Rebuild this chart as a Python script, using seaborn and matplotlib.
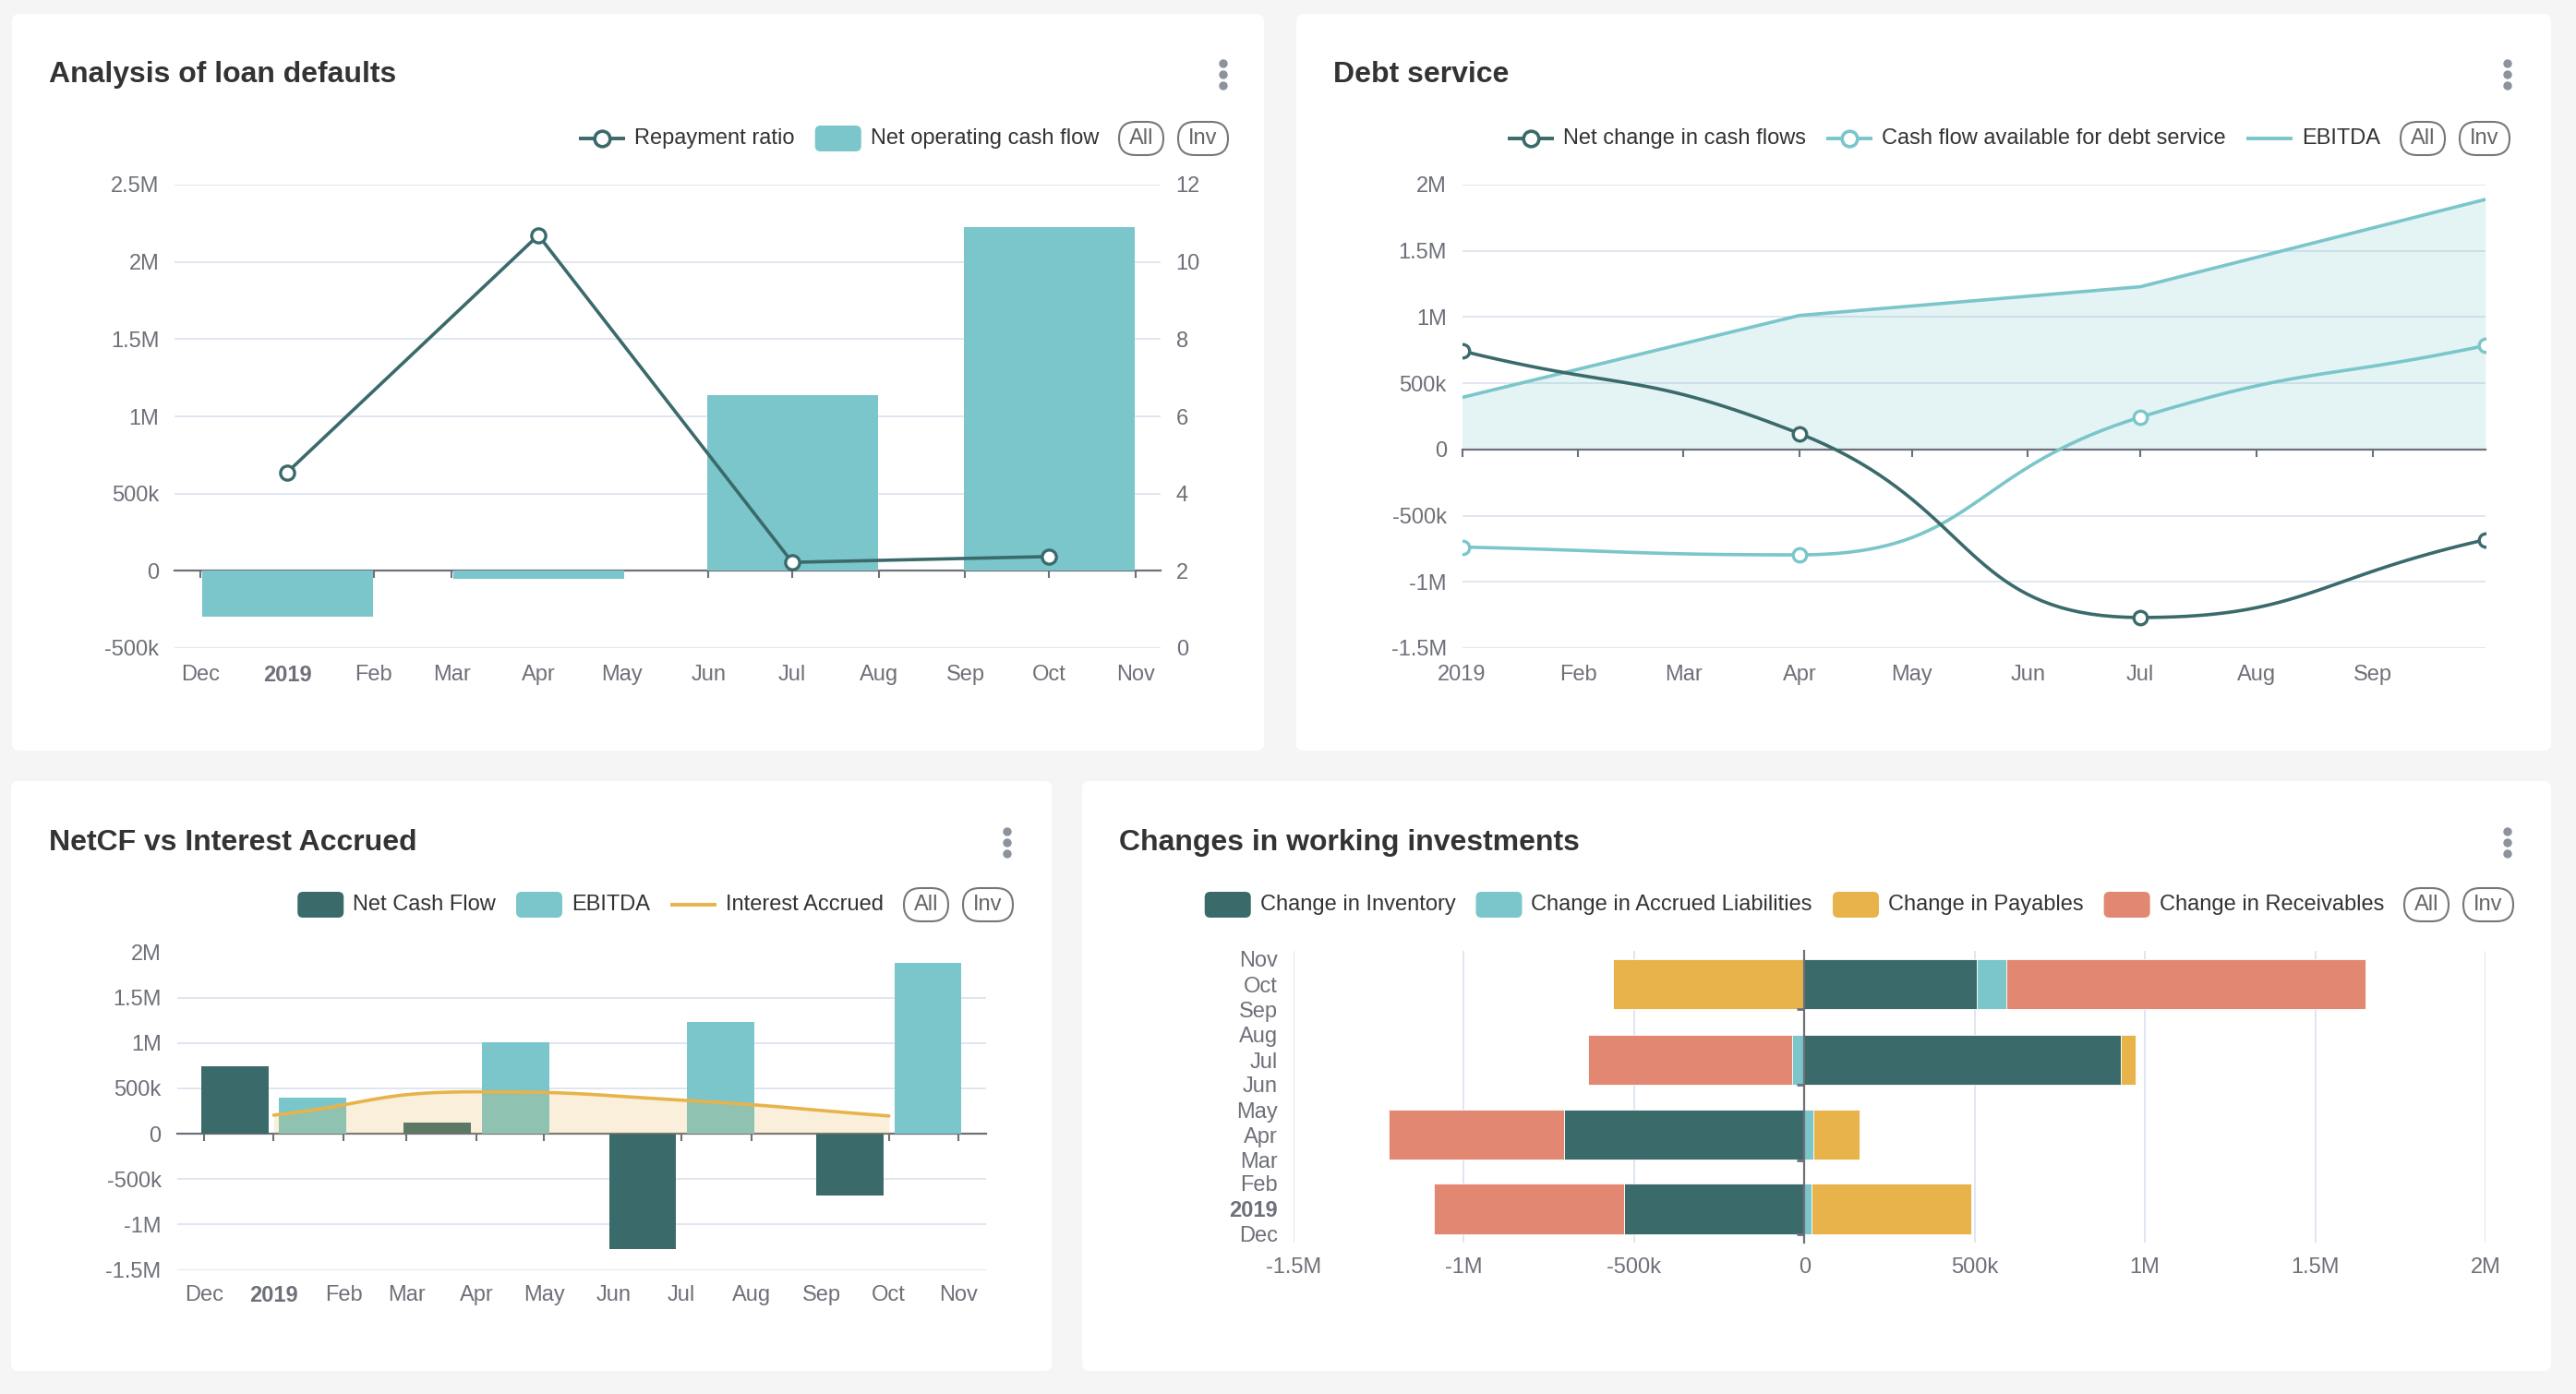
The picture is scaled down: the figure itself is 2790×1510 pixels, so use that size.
import numpy as np
import pandas as pd
import matplotlib
matplotlib.use('Agg')
import matplotlib.pyplot as plt
import seaborn as sns
from matplotlib.patches import FancyBboxPatch, Circle

# ---------------- data ----------------
month_labels = ['Dec', '2019', 'Feb', 'Mar', 'Apr', 'May', 'Jun', 'Jul', 'Aug', 'Sep', 'Oct', 'Nov']
quarter_dates = ['2019-01-01', '2019-04-01', '2019-07-01', '2019-10-01']

# Analysis of loan defaults
net_operating_cf = [-295000, -53000, 1136000, 2228000]
repayment_ratio = [4.55, 10.69, 2.22, 2.37]

# Debt service
net_change_cf = [744000, 120000, -1269000, -682000]
cf_debt_service = [-737000, -796000, 244000, 784000]
ebitda = [393000, 1012000, 1229000, 1888000]

# NetCF vs Interest Accrued
net_cash_flow = [745000, 118000, -1268000, -681000]
interest_accrued = [205000, 462000, 370000, 196000]

# Changes in working investments
chg_inventory = [-530000, -707000, 930000, 507000]
chg_accrued_liab = [20000, 25000, -37000, 85000]
chg_payables = [470000, 138000, 42000, -563000]
chg_receivables = [-558000, -515000, -597000, 1056000]

# ---------------- style ----------------
DARK = '#3b6a6b'
TEAL = '#7ac6cb'
GOLD = '#e8b34a'
SALMON = '#e28872'
GRID = '#e0e6f1'
AXIS = '#6e7079'
TEXT = '#333333'

sns.set_theme(style='white')
plt.rcParams['font.family'] = ['Liberation Sans', 'DejaVu Sans']

W, H = 2790, 1510
fig = plt.figure(figsize=(W / 100, H / 100), dpi=100)
fig.patch.set_facecolor('#f5f5f5')

# day offsets from 1 Dec 2018 (time axis)
base = pd.Timestamp('2018-12-01')
month_pos = np.array([(d - base).days for d in pd.date_range(base, periods=12, freq='MS')])
q_pos = np.array([(pd.Timestamp(d) - base).days for d in quarter_dates])

# background layer in pixel coordinates
bg = fig.add_axes([0, 0, 1, 1], zorder=-1)
bg.set_xlim(0, W)
bg.set_ylim(H, 0)
bg.axis('off')


def px_axes(l, t, r, b):
    return fig.add_axes([l / W, 1 - b / H, (r - l) / W, (b - t) / H])


def fmt_money(v):
    if v == 0:
        return '0'
    sign = '-' if v < 0 else ''
    a = abs(v)
    if a >= 1e6:
        return f'{sign}{a / 1e6:g}M'
    return f'{sign}{a / 1e3:g}k'


def style_axes(ax):
    for s in ax.spines.values():
        s.set_visible(False)
    ax.set_facecolor('none')
    ax.tick_params(axis='both', length=0, labelsize=17, labelcolor=AXIS)
    ax.set_xlabel('')
    ax.set_ylabel('')


def bold_2019(labels):
    for lbl in labels:
        if lbl.get_text() == '2019':
            lbl.set_fontweight('bold')


def zero_xaxis(ax, lo, hi, ticks, z):
    sec = ax.secondary_xaxis((0 - lo) / (hi - lo))
    sec.set_xticks(ticks, labels=[''] * len(ticks))
    sec.tick_params(length=6, width=1.5, color=AXIS)
    sec.spines['bottom'].set_color(AXIS)
    sec.spines['bottom'].set_linewidth(1.6)
    sec.set_zorder(z)
    return sec


def smooth_curve(ax, xs, ys, smooth=0.5, n=40):
    # echarts-like bezier smoothing, computed in display space
    pts = ax.transData.transform(np.column_stack([xs, ys]).astype(float))
    m = len(pts)
    cp_out = np.zeros_like(pts)
    cp_in = np.zeros_like(pts)
    for i in range(m):
        prev = pts[max(i - 1, 0)]
        nxt = pts[min(i + 1, m - 1)]
        v = nxt - prev
        l0 = np.hypot(*(pts[i] - prev))
        l1 = np.hypot(*(nxt - pts[i]))
        ratio = l1 / (l0 + l1) if (l0 + l1) > 0 else 0.5
        if 0 < i < m - 1 and (pts[i, 1] - prev[1]) * (nxt[1] - pts[i, 1]) <= 0:
            v[1] = 0
        cp_out[i] = pts[i] + v * smooth * ratio
        cp_in[i] = pts[i] - v * smooth * (1 - ratio)
    t = np.linspace(0, 1, n)[:, None]
    segs = []
    for i in range(m - 1):
        p0, p1, p2, p3 = pts[i], cp_out[i], cp_in[i + 1], pts[i + 1]
        seg = (1 - t) ** 3 * p0 + 3 * (1 - t) ** 2 * t * p1 + 3 * (1 - t) * t ** 2 * p2 + t ** 3 * p3
        segs.append(seg if i == 0 else seg[1:])
    curve = ax.transData.inverted().transform(np.vstack(segs))
    return curve[:, 0], curve[:, 1]


def panel(x0, y0, x1, y1, title, tx, ty, kx):
    bg.add_patch(FancyBboxPatch((x0, y0), x1 - x0, y1 - y0,
                                boxstyle='round,pad=0,rounding_size=8', fc='white', ec='none'))
    bg.text(tx, ty, title, fontsize=23, fontweight='bold', color=TEXT, va='center', ha='left')
    for dy in (-12, 0, 12):
        bg.add_patch(Circle((kx, ty + dy), 4, color='#8c939d'))


def legend_row(right, y, items):
    renderer = fig.canvas.get_renderer()
    # All / Inv selector pills
    cur = right
    for lab, w in (('Inv', 54), ('All', 48)):
        bg.add_patch(FancyBboxPatch((cur - w, y - 18), w, 36,
                                    boxstyle='round,pad=0,rounding_size=18',
                                    fc='white', ec='#777777', lw=1.5))
        bg.text(cur - w / 2, y, lab, fontsize=17, color='#666666', ha='center', va='center')
        cur -= w + 16
    cur += 16 - 22
    for kind, color, label in reversed(items):
        t = bg.text(cur, y, label, fontsize=17, color=TEXT, ha='right', va='center')
        tw = t.get_window_extent(renderer).width
        ix1 = cur - tw - 10
        ix0 = ix1 - 50
        if kind == 'rect':
            bg.add_patch(FancyBboxPatch((ix0, y - 14), 50, 28,
                                        boxstyle='round,pad=0,rounding_size=6', fc=color, ec='none'))
        else:
            bg.plot([ix0, ix1], [y, y], color=color, lw=2.8, solid_capstyle='butt')
            if kind == 'linemarker':
                bg.plot([(ix0 + ix1) / 2], [y], 'o', ms=12, mfc='white', mec=color, mew=2.6)
        cur = ix0 - 22


# ---------------- panels ----------------
panel(13, 15, 1369, 813, 'Analysis of loan defaults', 53, 81, 1325)
panel(1404, 15, 2763, 813, 'Debt service', 1444, 81, 2716)
panel(12, 846, 1139, 1485, 'NetCF vs Interest Accrued', 53, 913, 1091)
panel(1172, 846, 2763, 1485, 'Changes in working investments', 1212, 913, 2716)

legend_row(1330, 150, [('linemarker', DARK, 'Repayment ratio'),
                       ('rect', TEAL, 'Net operating cash flow')])
legend_row(2718, 150, [('linemarker', DARK, 'Net change in cash flows'),
                       ('linemarker', TEAL, 'Cash flow available for debt service'),
                       ('line', TEAL, 'EBITDA')])
legend_row(1097, 980, [('rect', DARK, 'Net Cash Flow'),
                       ('rect', TEAL, 'EBITDA'),
                       ('line', GOLD, 'Interest Accrued')])
legend_row(2722, 980, [('rect', DARK, 'Change in Inventory'),
                       ('rect', TEAL, 'Change in Accrued Liabilities'),
                       ('rect', GOLD, 'Change in Payables'),
                       ('rect', SALMON, 'Change in Receivables')])

# ---------------- 1. Analysis of loan defaults ----------------
ax1 = px_axes(189, 200, 1257, 702)
df1 = pd.DataFrame({'day': q_pos, 'cash': net_operating_cf, 'ratio': repayment_ratio})
sns.barplot(data=df1, x='day', y='cash', native_scale=True, width=0.68, color=TEAL,
            saturation=1, errorbar=None, linewidth=0, ax=ax1)
ax1r = ax1.twinx()
sns.lineplot(data=df1, x='day', y='ratio', color=DARK, lw=2.6, marker='o', markersize=11,
             markerfacecolor='white', markeredgecolor=DARK, markeredgewidth=2.4, ax=ax1r)
ax1.set_xlim(-9.4, 344)
ax1.set_ylim(-500000, 2500000)
ax1r.set_ylim(0, 12)
yt = np.arange(-500000, 2500001, 500000)
ax1.set_yticks(yt, [fmt_money(v) for v in yt])
ax1.set_xticks(month_pos, month_labels)
style_axes(ax1)
style_axes(ax1r)
ax1.tick_params(axis='y', pad=12)
ax1.tick_params(axis='x', pad=13)
ax1r.set_yticks(np.arange(0, 13, 2))
ax1r.tick_params(axis='y', pad=12)
ax1.grid(axis='y', color=GRID, lw=1.4)
ax1.grid(axis='x', visible=False)
ax1.set_axisbelow(True)
bold_2019(ax1.get_xticklabels())
zero_xaxis(ax1, -500000, 2500000, month_pos, 0.6)

# ---------------- 2. Debt service ----------------
ax2 = px_axes(1583.5, 200, 2691.7, 702)
ax2.set_xlim(31, 304)
ax2.set_ylim(-1500000, 2000000)
df2 = pd.DataFrame({'day': q_pos, 'ebitda': ebitda, 'net': net_change_cf, 'cfads': cf_debt_service})
sns.lineplot(data=df2, x='day', y='ebitda', color=TEAL, lw=2.6, ax=ax2, zorder=2)
ax2.fill_between(q_pos, ebitda, 0, color=TEAL, alpha=0.2, lw=0, zorder=1)
for col, colr in (('cfads', TEAL), ('net', DARK)):
    cx, cy = smooth_curve(ax2, df2['day'], df2[col])
    ax2.plot(cx, cy, color=colr, lw=2.6, zorder=3)
    sns.scatterplot(data=df2, x='day', y=col, s=110, facecolor='white', edgecolor=colr,
                    linewidth=2.4, zorder=4, ax=ax2)
ax2.set_xlim(31, 304)
ax2.set_ylim(-1500000, 2000000)
yt = np.arange(-1500000, 2000001, 500000)
ax2.set_yticks(yt, [fmt_money(v) for v in yt])
ax2.set_xticks(month_pos[1:10], month_labels[1:10])
style_axes(ax2)
ax2.tick_params(axis='y', pad=12)
ax2.tick_params(axis='x', pad=13)
ax2.grid(axis='y', color=GRID, lw=1.4)
ax2.grid(axis='x', visible=False)
ax2.set_axisbelow(True)
zero_xaxis(ax2, -1500000, 2000000, month_pos[1:10], 2)

# ---------------- 3. NetCF vs Interest Accrued ----------------
ax3 = px_axes(192, 1031.5, 1068, 1375.5)
df3 = pd.DataFrame({'day': np.tile(q_pos, 2),
                    'value': net_cash_flow + ebitda,
                    'series': ['Net Cash Flow'] * 4 + ['EBITDA'] * 4})
sns.barplot(data=df3, x='day', y='value', hue='series', hue_order=['Net Cash Flow', 'EBITDA'],
            palette=[DARK, TEAL], native_scale=True, width=0.77, gap=0.14, saturation=1,
            errorbar=None, linewidth=0, legend=False, ax=ax3)
ax3.set_xlim(-11.8, 347.1)
ax3.set_ylim(-1500000, 2000000)
cx, cy = smooth_curve(ax3, q_pos, interest_accrued)
ax3.fill_between(cx, cy, 0, color=GOLD, alpha=0.2, lw=0, zorder=2)
ax3.plot(cx, cy, color=GOLD, lw=2.6, zorder=3)
ax3.set_yticks(yt, [fmt_money(v) for v in yt])
ax3.set_xticks(month_pos, month_labels)
style_axes(ax3)
ax3.tick_params(axis='y', pad=12.5)
ax3.tick_params(axis='x', pad=12)
ax3.grid(axis='y', color=GRID, lw=1.4)
ax3.grid(axis='x', visible=False)
ax3.set_axisbelow(True)
bold_2019(ax3.get_xticklabels())
zero_xaxis(ax3, -1500000, 2000000, month_pos, 0.6)

# ---------------- 4. Changes in working investments ----------------
ax4 = px_axes(1401, 1030, 2692, 1345.6)
series4 = [(chg_inventory, DARK), (chg_accrued_liab, TEAL),
           (chg_payables, GOLD), (chg_receivables, SALMON)]
pos_base = np.zeros(len(q_pos))
neg_base = np.zeros(len(q_pos))
for vals, colr in series4:
    vals = np.array(vals, dtype=float)
    left = np.where(vals >= 0, pos_base, neg_base)
    ax4.barh(q_pos, vals, left=left, height=61, color=colr, edgecolor='white', linewidth=0.6, zorder=1)
    pos_base += np.where(vals > 0, vals, 0)
    neg_base += np.where(vals < 0, vals, 0)
ax4.set_xlim(-1500000, 2000000)
ax4.set_ylim(-9.7, 344.8)
xt = np.arange(-1500000, 2000001, 500000)
ax4.set_xticks(xt, [fmt_money(v) for v in xt])
ax4.set_yticks(month_pos, month_labels)
style_axes(ax4)
ax4.tick_params(axis='y', pad=12.5)
ax4.tick_params(axis='x', pad=11.5)
ax4.grid(axis='x', color=GRID, lw=1.4)
ax4.grid(axis='y', visible=False)
ax4.set_axisbelow(True)
bold_2019(ax4.get_yticklabels())
sec4 = ax4.secondary_yaxis(1.5 / 3.5)
sec4.set_yticks(month_pos[[0, 3, 6, 9]], labels=[''] * 4)
sec4.tick_params(length=6, width=2, color=AXIS)
sec4.spines['left'].set_color(AXIS)
sec4.spines['left'].set_linewidth(1.6)
sec4.set_zorder(2)

fig.savefig('out.png', dpi=100, facecolor=fig.get_facecolor())
